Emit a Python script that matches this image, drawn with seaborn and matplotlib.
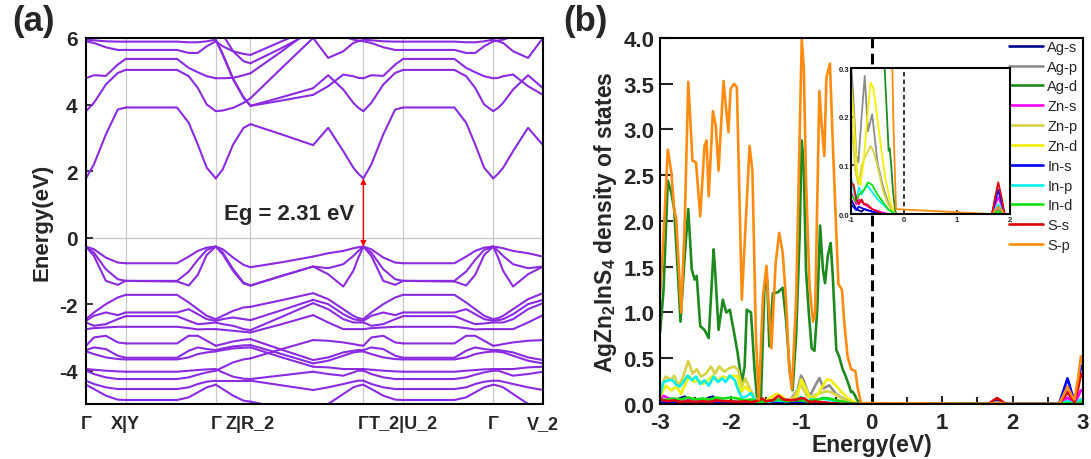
import pandas as pd
import seaborn as sns
import matplotlib.pyplot as plt

sns.set_theme(style="ticks")
plt.rcParams["font.family"] = ["Liberation Sans", "DejaVu Sans"]
plt.rcParams["font.weight"] = "bold"
plt.rcParams["axes.labelweight"] = "bold"
plt.rcParams["axes.unicode_minus"] = False
plt.rcParams["mathtext.fontset"] = "custom"
plt.rcParams["mathtext.bf"] = "Liberation Sans:bold"
plt.rcParams["mathtext.rm"] = "Liberation Sans:bold"

# =========================================================
# (a) BAND STRUCTURE
# =========================================================
kpath_ticks = [0.0, 0.087, 0.284, 0.360, 0.607, 0.694, 0.891, 1.0]
kpath_labels = ["Γ", "X|Y", "Γ", "Z|R_2", "Γ", "T_2|U_2", "Γ", "V_2"]

# Γ -> X leg (also used for Γ -> T_2), energies in eV at t nodes
gx_t = [0.0, 0.2, 0.5, 0.8, 1.0]
gx_bands = [
    [1.78, 2.20, 3.10, 3.85, 3.91],
    [3.80, 4.05, 4.60, 4.95, 5.04],
    [4.79, 4.88, 4.86, 5.20, 5.37],
    [5.90, 5.85, 5.72, 5.64, 5.64],
    [5.95, 5.93, 5.90, 5.89, 5.89],
    [-0.27, -0.35, -0.60, -0.75, -0.77],
    [-0.27, -0.45, -0.95, -1.25, -1.30],
    [-0.27, -0.55, -1.30, -1.42, -1.30],
    [-2.45, -2.25, -2.00, -1.80, -1.72],
    [-2.50, -2.35, -2.25, -2.33, -2.25],
    [-2.55, -2.65, -2.60, -2.45, -2.36],
    [-2.75, -2.72, -2.70, -2.68, -2.68],
    [-3.25, -3.00, -2.95, -3.15, -3.18],
    [-3.38, -3.30, -3.35, -3.55, -3.61],
    [-3.42, -3.50, -3.60, -3.65, -3.66],
    [-3.95, -3.97, -4.00, -4.02, -4.03],
    [-4.00, -4.10, -4.20, -4.25, -4.25],
    [-4.30, -4.40, -4.50, -4.55, -4.55],
    [-4.42, -4.55, -4.75, -4.87, -4.88],
]

# Y -> Γ leg (also used for U_2 -> Γ)
yg_t = [0.0, 0.57, 0.70, 0.80, 0.90, 1.0]
yg_bands = [
    [3.91, 3.91, 3.45, 2.80, 2.10, 1.78],
    [5.04, 5.04, 4.85, 4.50, 4.00, 3.80],
    [5.37, 5.37, 5.10, 4.97, 4.85, 4.79],
    [5.64, 5.64, 5.55, 5.55, 5.75, 5.90],
    [5.89, 5.89, 5.87, 5.87, 5.90, 5.95],
    [-0.77, -0.77, -0.57, -0.40, -0.30, -0.27],
    [-1.30, -1.30, -1.02, -0.67, -0.37, -0.27],
    [-1.30, -1.32, -1.44, -1.12, -0.52, -0.27],
    [-1.72, -1.72, -1.95, -2.15, -2.35, -2.45],
    [-2.25, -2.25, -2.15, -2.30, -2.45, -2.50],
    [-2.36, -2.36, -2.50, -2.60, -2.58, -2.55],
    [-2.68, -2.68, -2.72, -2.76, -2.75, -2.75],
    [-3.18, -3.18, -2.95, -2.95, -3.10, -3.25],
    [-3.61, -3.61, -3.40, -3.30, -3.35, -3.38],
    [-3.66, -3.66, -3.60, -3.50, -3.45, -3.42],
    [-4.03, -4.03, -4.00, -3.98, -3.96, -3.95],
    [-4.25, -4.25, -4.20, -4.12, -4.05, -4.00],
    [-4.55, -4.55, -4.50, -4.40, -4.33, -4.30],
    [-4.88, -4.88, -4.80, -4.65, -4.50, -4.42],
]

# Γ -> Z leg
gz_t = [0.0, 0.2, 0.5, 0.8, 1.0]
gz_bands = [
    [1.78, 2.05, 2.80, 3.30, 3.41],
    [3.80, 3.82, 3.90, 4.05, 4.19],
    [4.79, 4.79, 4.80, 4.88, 4.94],
    [5.94, 5.50, 4.75, 4.20, 3.96],
    [5.95, 5.52, 4.78, 4.22, 3.96],
    [5.90, 5.75, 5.60, 5.52, 5.49],
    [6.40, 6.10, 5.60, 5.30, 5.24],
    [-0.27, -0.35, -0.60, -0.82, -0.89],
    [-0.27, -0.45, -0.95, -1.35, -1.44],
    [-0.27, -0.50, -1.00, -1.38, -1.44],
    [-2.45, -2.35, -2.20, -2.10, -2.08],
    [-2.50, -2.45, -2.40, -2.45, -2.48],
    [-2.55, -2.60, -2.65, -2.75, -2.78],
    [-2.75, -2.77, -2.80, -2.83, -2.85],
    [-3.25, -3.20, -3.12, -3.07, -3.05],
    [-3.38, -3.33, -3.27, -3.24, -3.23],
    [-3.42, -3.38, -3.33, -3.31, -3.30],
    [-4.00, -3.90, -3.75, -3.66, -3.63],
    [-3.95, -4.05, -4.18, -4.24, -4.25],
    [-4.30, -4.30, -4.30, -4.30, -4.30],
    [-4.42, -4.55, -4.75, -4.90, -4.93],
]

# R_2 -> K leg (straight lines)
rk_t = [0.0, 0.5, 1.0]
rk_bands = [
    [3.41, 3.10, 2.78],
    [4.19, 5.10, 6.00],
    [4.94, 5.60, 6.30],
    [3.96, 4.22, 4.49],
    [3.96, 4.12, 4.29],
    [5.49, 5.90, 6.30],
    [5.24, 5.70, 6.20],
    [-0.89, -0.74, -0.57],
    [-1.44, -1.15, -0.87],
    [-1.44, -1.15, -0.87],
    [-2.08, -1.88, -1.67],
    [-2.48, -2.18, -1.87],
    [-2.78, -2.38, -1.97],
    [-2.85, -2.60, -2.33],
    [-3.05, -3.37, -3.68],
    [-3.23, -3.50, -3.78],
    [-3.30, -3.60, -3.88],
    [-3.63, -3.35, -3.08],
    [-4.25, -4.14, -4.03],
    [-4.30, -4.44, -4.58],
    [-4.93, -5.12, -5.30],
]

# K -> Γ leg (also used reversed for Γ -> V_2)
kg_t = [0.0, 0.3, 0.6, 0.8, 0.9, 1.0]
kg_bands = [
    [2.78, 3.30, 2.60, 2.10, 1.92, 1.78],
    [4.49, 4.88, 4.45, 4.05, 3.90, 3.80],
    [4.29, 4.55, 4.90, 4.85, 4.80, 4.79],
    [6.00, 5.40, 5.60, 5.85, 5.90, 5.94],
    [6.30, 6.20, 6.05, 5.95, 5.92, 5.90],
    [-0.57, -0.47, -0.40, -0.32, -0.29, -0.27],
    [-0.87, -0.92, -0.80, -0.55, -0.40, -0.27],
    [-0.87, -1.10, -1.47, -1.00, -0.60, -0.27],
    [-1.67, -1.85, -2.15, -2.35, -2.42, -2.45],
    [-1.87, -2.00, -2.30, -2.45, -2.48, -2.50],
    [-1.97, -2.15, -2.45, -2.55, -2.55, -2.55],
    [-2.33, -2.55, -2.75, -2.75, -2.75, -2.75],
    [-3.08, -3.10, -3.15, -3.20, -3.23, -3.25],
    [-3.68, -3.60, -3.45, -3.40, -3.38, -3.38],
    [-3.78, -3.70, -3.55, -3.45, -3.43, -3.42],
    [-3.88, -3.90, -3.95, -3.95, -3.95, -3.95],
    [-4.03, -4.10, -4.15, -4.05, -4.00, -4.00],
    [-4.58, -4.50, -4.40, -4.33, -4.30, -4.30],
    [-5.30, -5.00, -4.70, -4.50, -4.45, -4.42],
]

# (k at t=0, k at t=1, nodes, bands)
legs = [
    (0.000, 0.087, gx_t, gx_bands),
    (0.087, 0.284, yg_t, yg_bands),
    (0.284, 0.360, gz_t, gz_bands),
    (0.360, 0.497, rk_t, rk_bands),
    (0.497, 0.607, kg_t, kg_bands),
    (0.607, 0.694, gx_t, gx_bands),
    (0.694, 0.891, yg_t, yg_bands),
    (1.000, 0.891, kg_t, kg_bands),
]

rows = []
for leg_id, (k0, k1, t_nodes, bands) in enumerate(legs):
    for b_id, energies in enumerate(bands):
        for t, e in zip(t_nodes, energies):
            rows.append({"k": k0 + t * (k1 - k0), "E": e, "unit": f"{leg_id}-{b_id}"})
df_bands = pd.DataFrame(rows)

# =========================================================
# (b) PARTIAL DENSITY OF STATES
# =========================================================
orbitals = ["Ag-s", "Ag-p", "Ag-d", "Zn-s", "Zn-p", "Zn-d",
            "In-s", "In-p", "In-d", "S-s", "S-p"]
colors = ["#00008b", "#8c8c8c", "#1e8a1e", "#ff00ff", "#d6d244", "#f2f000",
          "#0000ff", "#00f0f0", "#10e010", "#e00000", "#ff8c10"]

ags_e = [-3.0, -2.9, -2.8, -2.72, -2.65, -2.58, -2.5, -2.4, -2.3, -2.25, -2.2, -2.0,
         -1.8, -1.6, -1.4, -1.2, -1.0, -0.9, -0.8, -0.75, -0.6, -0.4]
ags_d = [0.03, 0.02, 0.03, 0.06, 0.08, 0.04, 0.02, 0.03, 0.07, 0.08, 0.03, 0.02,
         0.01, 0.01, 0.02, 0.01, 0.03, 0.01, 0.005, 0.01, 0.005, 0.0]

agp_e = [-3.0, -2.9, -2.7, -2.5, -2.3, -2.1, -1.9, -1.7, -1.5, -1.3, -1.15, -1.05,
         -1.0, -0.96, -0.9, -0.86, -0.8, -0.74, -0.68, -0.6, -0.5, -0.4, -0.3, -0.2, -0.15]
agp_d = [0.05, 0.04, 0.03, 0.03, 0.04, 0.03, 0.03, 0.02, 0.02, 0.03, 0.05, 0.15,
         0.31, 0.25, 0.12, 0.106, 0.2, 0.284, 0.17, 0.205, 0.106, 0.058, 0.024, 0.003, 0.0]

agd_e = [-3.0, -2.95, -2.89, -2.84, -2.8, -2.75, -2.71, -2.65, -2.6, -2.55, -2.51, -2.48,
         -2.43, -2.37, -2.31, -2.24, -2.22, -2.17, -2.11, -2.06, -2.01, -1.95, -1.9, -1.84,
         -1.8, -1.77, -1.71, -1.66, -1.62, -1.57, -1.52, -1.48, -1.45, -1.4, -1.33, -1.26,
         -1.21, -1.16, -1.12, -1.07, -1.02, -0.99, -0.96, -0.93, -0.89, -0.85, -0.81, -0.77,
         -0.73, -0.69, -0.66, -0.62, -0.58, -0.55, -0.5, -0.46, -0.41, -0.36, -0.32, -0.29,
         -0.27, -0.24, -0.21, -0.17, -0.15]
agd_d = [0.78, 1.25, 2.44, 2.31, 2.13, 1.47, 0.9, 1.62, 2.13, 1.47, 1.36, 1.4,
         0.85, 0.81, 0.72, 1.69, 1.47, 0.81, 1.14, 1.0, 1.03, 0.78, 0.56, 0.23,
         0.41, 1.03, 1.0, 0.38, 0.03, 0.02, 1.25, 1.36, 0.63, 1.21, 1.22, 1.27,
         0.9, 0.35, 0.15, 0.74, 1.84, 2.88, 2.57, 1.47, 1.0, 0.61, 0.58, 1.03,
         1.95, 1.47, 1.32, 1.62, 1.76, 1.4, 0.59, 0.52, 0.38, 0.29, 0.2, 0.13,
         0.135, 0.1, 0.05, 0.01, 0.0]

zns_e = [-3.0, -2.95, -2.9, -2.8, -2.7, -2.6, -2.5, -2.4, -2.2, -2.0, -1.8, -1.6,
         -1.4, -1.2, -1.0, -0.9, -0.85, -0.75, -0.6, -0.4, -0.3]
zns_d = [0.06, 0.09, 0.07, 0.04, 0.03, 0.04, 0.03, 0.02, 0.03, 0.02, 0.02, 0.01,
         0.02, 0.02, 0.045, 0.02, 0.03, 0.02, 0.01, 0.003, 0.0]

znp_e = [-3.0, -2.95, -2.92, -2.84, -2.8, -2.74, -2.68, -2.6, -2.54, -2.48, -2.42, -2.35,
         -2.28, -2.22, -2.16, -2.09, -2.02, -1.95, -1.89, -1.84, -1.79, -1.73, -1.66, -1.59,
         -1.5, -1.4, -1.3, -1.2, -1.1, -1.0, -0.92, -0.86, -0.8, -0.72, -0.63, -0.58,
         -0.5, -0.4, -0.3, -0.2, -0.15]
znp_d = [0.11, 0.25, 0.3, 0.26, 0.31, 0.2, 0.28, 0.47, 0.33, 0.38, 0.3, 0.33,
         0.41, 0.33, 0.41, 0.35, 0.39, 0.41, 0.37, 0.19, 0.28, 0.17, 0.07, 0.02,
         0.03, 0.05, 0.04, 0.03, 0.08, 0.21, 0.09, 0.06, 0.1, 0.12, 0.14, 0.13,
         0.1, 0.05, 0.02, 0.005, 0.0]

znd_e = [-3.0, -2.92, -2.84, -2.77, -2.7, -2.63, -2.58, -2.52, -2.46, -2.39, -2.32, -2.25,
         -2.18, -2.11, -2.04, -1.97, -1.9, -1.85, -1.79, -1.72, -1.64, -1.57, -1.5, -1.35,
         -1.28, -1.21, -1.12, -1.05, -1.0, -0.95, -0.88, -0.82, -0.76, -0.69, -0.63, -0.58,
         -0.5, -0.42, -0.35, -0.27, -0.2, -0.15]
znd_d = [0.08, 0.2, 0.15, 0.19, 0.11, 0.24, 0.3, 0.24, 0.26, 0.22, 0.26, 0.31,
         0.26, 0.3, 0.28, 0.31, 0.3, 0.13, 0.19, 0.13, 0.02, 0.0, 0.04, 0.11,
         0.09, 0.04, 0.02, 0.09, 0.27, 0.2, 0.08, 0.06, 0.11, 0.2, 0.27, 0.26,
         0.195, 0.127, 0.072, 0.03, 0.005, 0.0]

ins_e = [-3.0, -2.8, -2.6, -2.4, -2.2, -2.0, -1.8, -1.5, -1.2, -1.0, -0.9, -0.85,
         -0.75, -0.6, -0.4]
ins_d = [0.02, 0.02, 0.01, 0.02, 0.01, 0.01, 0.01, 0.005, 0.01, 0.02, 0.008, 0.015,
         0.01, 0.005, 0.0]

inp_e = [-3.0, -2.95, -2.87, -2.82, -2.77, -2.72, -2.67, -2.61, -2.55, -2.49, -2.43, -2.37,
         -2.31, -2.24, -2.18, -2.12, -2.07, -2.01, -1.94, -1.89, -1.84, -1.78, -1.71, -1.65,
         -1.59, -1.5, -1.35, -1.2, -1.1, -1.0, -0.95, -0.9, -0.85, -0.8, -0.75, -0.7,
         -0.6, -0.5, -0.4, -0.3, -0.2, -0.15]
inp_d = [0.1, 0.24, 0.26, 0.26, 0.21, 0.19, 0.24, 0.31, 0.26, 0.3, 0.22, 0.26,
         0.2, 0.3, 0.24, 0.28, 0.24, 0.31, 0.26, 0.15, 0.07, 0.08, 0.12, 0.04,
         0.01, 0.02, 0.04, 0.03, 0.04, 0.075, 0.05, 0.03, 0.055, 0.04, 0.05, 0.06,
         0.045, 0.03, 0.02, 0.01, 0.003, 0.0]

ind_e = [-3.0, -2.9, -2.8, -2.7, -2.6, -2.5, -2.4, -2.3, -2.2, -2.1, -2.0, -1.9,
         -1.8, -1.7, -1.6, -1.5, -1.4, -1.3, -1.2, -1.1, -1.0, -0.9, -0.85, -0.75,
         -0.68, -0.6, -0.5, -0.4, -0.3, -0.2, -0.15]
ind_d = [0.04, 0.05, 0.06, 0.05, 0.07, 0.05, 0.06, 0.05, 0.07, 0.06, 0.07, 0.06,
         0.04, 0.05, 0.02, 0.03, 0.04, 0.05, 0.03, 0.04, 0.04, 0.025, 0.04, 0.05,
         0.065, 0.06, 0.04, 0.025, 0.01, 0.002, 0.0]

ss_e = [-3.0, -2.9, -2.8, -2.7, -2.6, -2.5, -2.4, -2.3, -2.2, -2.1, -2.0, -1.9,
        -1.8, -1.7, -1.6, -1.55, -1.5, -1.4, -1.32, -1.25, -1.15, -1.05, -1.0, -0.95,
        -0.9, -0.85, -0.8, -0.75, -0.7, -0.6, -0.5, -0.4]
ss_d = [0.05, 0.03, 0.04, 0.02, 0.03, 0.02, 0.03, 0.02, 0.04, 0.03, 0.03, 0.02,
        0.03, 0.02, 0.04, 0.06, 0.03, 0.04, 0.09, 0.05, 0.04, 0.05, 0.065, 0.06,
        0.03, 0.02, 0.03, 0.02, 0.02, 0.01, 0.005, 0.0]

sp_e = [-3.0, -2.96, -2.89, -2.84, -2.8, -2.77, -2.7, -2.65, -2.6, -2.54, -2.49, -2.43,
        -2.37, -2.34, -2.31, -2.25, -2.21, -2.17, -2.1, -2.06, -2.03, -2.0, -1.95, -1.91,
        -1.84, -1.73, -1.69, -1.64, -1.6, -1.54, -1.49, -1.45, -1.42, -1.36, -1.31, -1.26,
        -1.21, -1.17, -1.13, -1.07, -1.02, -0.99, -0.96, -0.93, -0.88, -0.83, -0.8, -0.74,
        -0.71, -0.67, -0.64, -0.59, -0.55, -0.5, -0.47, -0.42, -0.39, -0.34, -0.29, -0.23,
        -0.2, -0.15]
sp_d = [1.18, 1.7, 2.78, 2.53, 2.13, 2.02, 1.0, 1.98, 3.52, 2.66, 2.64, 2.05,
        2.82, 2.88, 2.27, 3.2, 3.04, 2.55, 3.53, 3.2, 2.97, 3.44, 3.5, 3.46,
        1.14, 2.82, 2.55, 0.74, 0.05, 1.18, 1.51, 0.96, 0.61, 1.54, 1.87, 1.65,
        1.1, 0.43, 0.16, 1.14, 2.93, 3.99, 3.66, 2.46, 1.29, 0.9, 1.0, 3.42,
        3.08, 2.71, 3.57, 3.72, 2.86, 1.87, 1.31, 1.25, 0.92, 0.52, 0.38, 0.36,
        0.19, 0.01]

# conduction-band states (same energies for every orbital)
cb_e = [1.66, 1.72, 1.78, 1.84, 1.90, 2.66, 2.72, 2.78, 2.84, 2.88, 2.93, 2.97, 3.0]
cb_d = {
    "Ag-s": [0, 0.003, 0.005, 0.003, 0, 0, 0.01, 0.02, 0.01, 0.005, 0.015, 0.03, 0.03],
    "Ag-p": [0, 0.005, 0.01, 0.005, 0, 0, 0.015, 0.03, 0.015, 0.01, 0.03, 0.05, 0.05],
    "Ag-d": [0, 0.002, 0.005, 0.002, 0, 0, 0.005, 0.01, 0.005, 0.003, 0.01, 0.02, 0.02],
    "Zn-s": [0, 0.018, 0.035, 0.018, 0, 0, 0.035, 0.07, 0.035, 0.02, 0.08, 0.15, 0.14],
    "Zn-p": [0, 0.003, 0.005, 0.003, 0, 0, 0.01, 0.02, 0.01, 0.008, 0.02, 0.04, 0.04],
    "Zn-d": [0, 0, 0.002, 0, 0, 0, 0.002, 0.005, 0.002, 0.001, 0.003, 0.005, 0.005],
    "In-s": [0, 0.025, 0.05, 0.025, 0, 0, 0.14, 0.28, 0.12, 0.03, 0.22, 0.42, 0.38],
    "In-p": [0, 0.01, 0.02, 0.01, 0, 0, 0.015, 0.03, 0.015, 0.008, 0.025, 0.05, 0.05],
    "In-d": [0, 0.003, 0.005, 0.003, 0, 0, 0.005, 0.01, 0.005, 0.003, 0.01, 0.02, 0.02],
    "S-s": [0, 0.035, 0.065, 0.035, 0, 0, 0.06, 0.13, 0.06, 0.02, 0.17, 0.33, 0.30],
    "S-p": [0, 0.008, 0.015, 0.008, 0, 0, 0.09, 0.19, 0.09, 0.05, 0.28, 0.52, 0.45],
}

valence = {
    "Ag-s": (ags_e, ags_d), "Ag-p": (agp_e, agp_d), "Ag-d": (agd_e, agd_d),
    "Zn-s": (zns_e, zns_d), "Zn-p": (znp_e, znp_d), "Zn-d": (znd_e, znd_d),
    "In-s": (ins_e, ins_d), "In-p": (inp_e, inp_d), "In-d": (ind_e, ind_d),
    "S-s": (ss_e, ss_d), "S-p": (sp_e, sp_d),
}

dos_rows = []
for orb in orbitals:
    ve, vd = valence[orb]
    for e, d in zip(list(ve) + cb_e, list(vd) + cb_d[orb]):
        dos_rows.append({"orbital": orb, "E": e, "D": d})
df_dos = pd.DataFrame(dos_rows)

# =========================================================
# FIGURE
# =========================================================
fig = plt.figure(figsize=(10.91, 4.6), dpi=100)
ax_a = fig.add_axes([0.0788, 0.1196, 0.4189, 0.7957])
ax_b = fig.add_axes([0.605, 0.1196, 0.3877, 0.7957])
ax_in = fig.add_axes([0.780, 0.5326, 0.1457, 0.317])

# ---- (a)
for k in kpath_ticks[1:-1]:
    ax_a.axvline(k, color="#c8c8c8", lw=0.9, zorder=0)
ax_a.axhline(0, color="#c8c8c8", lw=0.9, zorder=0)
sns.lineplot(data=df_bands, x="k", y="E", units="unit", estimator=None, sort=False,
             color="#8a2be2", lw=1.5, legend=False, ax=ax_a)
ax_a.set_xlim(0, 1)
ax_a.set_ylim(-5, 6)
ax_a.set_yticks([-4, -2, 0, 2, 4, 6])
ax_a.set_xticks(kpath_ticks)
ax_a.set_xticklabels(kpath_labels)
ax_a.tick_params(axis="x", length=0, pad=8, labelsize=13)
ax_a.tick_params(axis="y", direction="in", length=5, width=1.3, labelsize=15, pad=6)
ax_a.set_xlabel("")
ax_a.set_ylabel("Energy(eV)", fontsize=16, labelpad=5)
for s in ax_a.spines.values():
    s.set_linewidth(1.5)
    s.set_color("black")
ax_a.annotate("", xy=(0.607, 1.78), xytext=(0.607, -0.27),
              arrowprops=dict(arrowstyle="<|-|>", color="red", lw=1.0,
                              shrinkA=0, shrinkB=0, mutation_scale=8))
ax_a.text(0.445, 0.72, "Eg = 2.31 eV", ha="center", va="center",
          fontsize=16, fontweight="bold")

# ---- (b)
ax_b.axvline(0, color="black", lw=2.2, ls=(0, (3.5, 1.8)), zorder=1)
sns.lineplot(data=df_dos, x="E", y="D", hue="orbital", hue_order=orbitals,
             palette=colors, estimator=None, sort=False, lw=1.9, ax=ax_b)
ax_b.set_xlim(-3, 3)
ax_b.set_ylim(0, 4)
ax_b.set_xticks([-3, -2, -1, 0, 1, 2, 3])
ax_b.set_xticks([-2.5, -1.5, -0.5, 0.5, 1.5, 2.5], minor=True)
ax_b.set_yticks([0, 0.5, 1, 1.5, 2, 2.5, 3, 3.5, 4])
ax_b.set_yticklabels([f"{v:.1f}" for v in [0, 0.5, 1, 1.5, 2, 2.5, 3, 3.5, 4]])
ax_b.tick_params(axis="x", which="major", direction="in", length=6, width=1.5,
                 labelsize=16, pad=6)
ax_b.tick_params(axis="x", which="minor", direction="in", length=5, width=1.5)
ax_b.tick_params(axis="y", direction="in", length=9, width=1.5, labelsize=16, pad=4)
ax_b.set_xlabel("Energy(eV)", fontsize=16.5, labelpad=0)
ax_b.set_ylabel(r"AgZn$\mathbf{_2}$InS$\mathbf{_4}$ density of states",
                fontsize=16.5, labelpad=3)
for s in ax_b.spines.values():
    s.set_linewidth(1.5)
    s.set_color("black")
sns.move_legend(ax_b, loc="upper left", bbox_to_anchor=(0.826, 0.995),
                frameon=False, title=None, borderpad=0, borderaxespad=0,
                handlelength=2.3, handletextpad=0.3, labelspacing=0.40,
                prop={"weight": "normal", "size": 10.5})

# ---- inset
sns.lineplot(data=df_dos, x="E", y="D", hue="orbital", hue_order=orbitals,
             palette=colors, estimator=None, sort=False, lw=1.3, legend=False, ax=ax_in)
ax_in.axvline(0, color="black", lw=1.1, ls=(0, (3, 2)), zorder=0)
ax_in.set_xlim(-1, 2)
ax_in.set_ylim(0, 0.3)
ax_in.set_xticks([-1, 0, 1, 2])
ax_in.set_yticks([0, 0.1, 0.2, 0.3])
ax_in.set_yticklabels(["0.0", "0.1", "0.2", "0.3"])
ax_in.tick_params(direction="in", length=3, width=1.2, labelsize=5.5, pad=1.5)
ax_in.set_xlabel("")
ax_in.set_ylabel("")
ax_in.set_facecolor("white")
for s in ax_in.spines.values():
    s.set_linewidth(1.5)
    s.set_color("black")

fig.text(0.011, 0.954, "(a)", fontsize=25, fontweight="bold", va="center")
fig.text(0.516, 0.954, "(b)", fontsize=25, fontweight="bold", va="center")

fig.savefig("out.png", dpi=100)
